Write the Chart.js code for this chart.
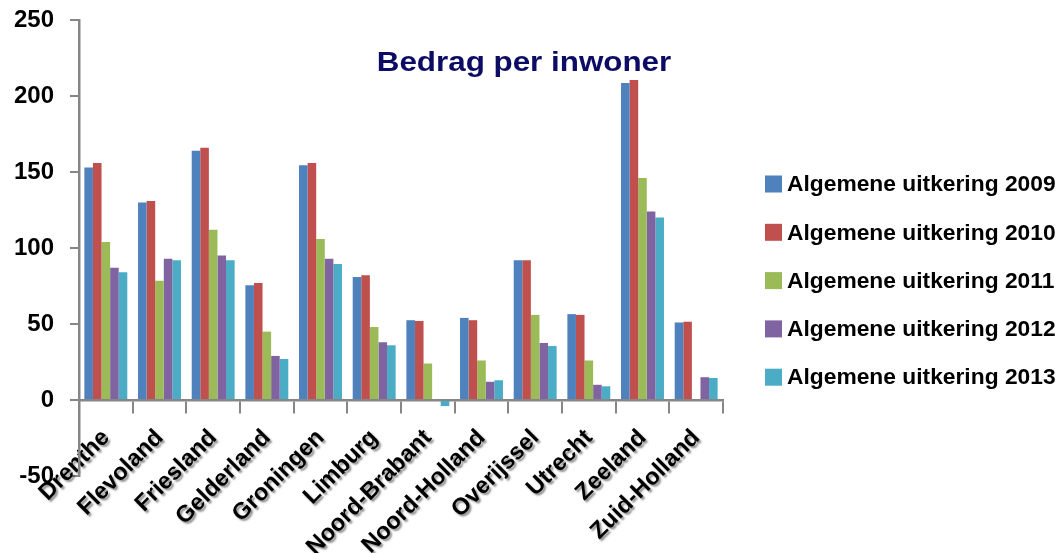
<!DOCTYPE html>
<html>
<head>
<meta charset="utf-8">
<script src="https://cdn.jsdelivr.net/npm/chart.js@4.4.1/dist/chart.umd.min.js"></script>
<style>
  html, body { margin: 0; padding: 0; background: #fff; }
</style>
</head>
<body>
<canvas id="chart" width="1062" height="553"></canvas>
<script>
// data
const provinces = ["Drenthe", "Flevoland", "Friesland", "Gelderland", "Groningen", "Limburg",
  "Noord-Brabant", "Noord-Holland", "Overijssel", "Utrecht", "Zeeland", "Zuid-Holland"];
const seriesNames = ["Algemene uitkering 2009", "Algemene uitkering 2010", "Algemene uitkering 2011",
  "Algemene uitkering 2012", "Algemene uitkering 2013"];
const au2009 = [153, 130, 164, 75.5, 154.5, 81, 52.5, 54, 92, 56.5, 208.5, 51];
const au2010 = [156, 131, 166, 77, 156, 82, 52, 52.5, 92, 56, 210.5, 51.5];
const au2011 = [104, 78.5, 112, 45, 106, 48, 24, 26, 56, 26, 146, 0];
const au2012 = [87, 93, 95, 29, 93, 38, 0, 12, 37.5, 10, 124, 15];
const au2013 = [84, 92, 92, 27, 89.5, 36, -4, 13, 35.5, 9, 120, 14.5];
const yTicks = [-50, 0, 50, 100, 150, 200, 250];
const chartTitle = "Bedrag per inwoner";

const colors = ["#4F81BD", "#C0504D", "#9BBB59", "#8064A2", "#4BACC6"];
const allSeries = [au2009, au2010, au2011, au2012, au2013];
const axisGray = "#868686";
const font = "'Liberation Sans', Arial, sans-serif";

// title inside the plot, legend on the right, shadow on the category labels
const decorations = {
  id: "decorations",
  beforeDraw(chart) {
    const xs = chart.scales.x;
    if (xs && !xs._shadowPatched) {
      const orig = xs.drawLabels.bind(xs);
      xs.drawLabels = function (area) {
        const ctx = chart.ctx;
        ctx.save();
        ctx.shadowColor = "rgba(0,0,0,0.45)";
        ctx.shadowOffsetX = 2;
        ctx.shadowOffsetY = 2;
        ctx.shadowBlur = 2;
        orig(area);
        ctx.restore();
      };
      xs._shadowPatched = true;
    }
  },
  afterDraw(chart) {
    const ctx = chart.ctx;
    ctx.save();
    ctx.fillStyle = "#0C0C64";
    ctx.font = "bold 28px " + font;
    ctx.textAlign = "center";
    ctx.textBaseline = "middle";
    ctx.translate(524, 63);
    ctx.scale(1.12, 1);
    ctx.fillText(chartTitle, 0, 0);
    ctx.restore();

    ctx.save();
    ctx.font = "bold 22.8px " + font;
    ctx.textAlign = "left";
    ctx.textBaseline = "middle";
    chart.data.datasets.forEach((ds, i) => {
      const y = 184 + i * 48.3;
      ctx.fillStyle = ds.backgroundColor;
      ctx.fillRect(765, y - 8.5, 17, 17);
      ctx.fillStyle = "#000";
      ctx.fillText(ds.label, 787, y + 1);
    });
    ctx.restore();
  }
};

new Chart(document.getElementById("chart"), {
  type: "bar",
  data: {
    labels: provinces,
    datasets: seriesNames.map((name, i) => ({
      label: name,
      data: allSeries[i],
      backgroundColor: colors[i],
      borderWidth: 0,
      categoryPercentage: 0.8,
      barPercentage: 1.0
    }))
  },
  options: {
    responsive: false,
    animation: false,
    devicePixelRatio: 1,
    layout: { padding: { top: 20, bottom: 77, left: 0, right: 339 } },
    plugins: {
      legend: { display: false },
      title: { display: false },
      tooltip: { enabled: false }
    },
    scales: {
      x: {
        position: { y: 0 },
        grid: {
          offset: true,
          drawOnChartArea: false,
          drawTicks: true,
          tickLength: 12,
          color: axisGray,
          lineWidth: 2
        },
        border: { color: axisGray, width: 2.5 },
        ticks: {
          autoSkip: false,
          minRotation: 45,
          maxRotation: 45,
          padding: 12,
          color: "#000",
          font: { family: font, weight: "bold", size: 23.5 }
        }
      },
      y: {
        min: -50,
        max: 250,
        afterBuildTicks(scale) {
          scale.ticks = yTicks.map(v => ({ value: v }));
        },
        afterFit(scale) {
          scale.width = 79;
          scale.paddingTop = 0;
          scale.paddingBottom = 0;
        },
        grid: {
          drawOnChartArea: false,
          drawTicks: true,
          tickLength: 9,
          color: axisGray,
          lineWidth: 2
        },
        border: { color: axisGray, width: 2.5 },
        ticks: {
          padding: 16,
          color: "#000",
          font: { family: font, weight: "bold", size: 24 }
        }
      }
    }
  },
  plugins: [decorations]
});
</script>
</body>
</html>
